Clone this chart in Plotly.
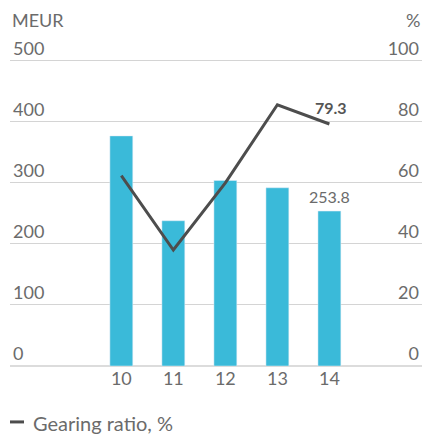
import plotly.graph_objects as go

years = [10, 11, 12, 13, 14]
year_labels = ["10", "11", "12", "13", "14"]
debt_meur = [377, 238, 304, 292, 253.8]
gearing_pct = [62.4, 38.0, 60.0, 85.6, 79.3]
left_ticks = [0, 100, 200, 300, 400, 500]
right_ticks = [0, 20, 40, 60, 80, 100]

FONT = "Lato"
GRAY = "#6b6b6b"

fig = go.Figure()
fig.add_trace(go.Bar(x=years, y=debt_meur, marker_color="#3ABAD9", width=0.44,
                     name="Net debt", showlegend=False, hoverinfo="skip"))
fig.add_trace(go.Scatter(x=years, y=gearing_pct, yaxis="y2", mode="lines",
                         line=dict(color="#4d4d4d", width=3), name="Gearing ratio, %",
                         showlegend=False, hoverinfo="skip"))

# value labels
fig.add_annotation(x=years[-1], y=debt_meur[-1], text=f"{debt_meur[-1]:.1f}", showarrow=False,
                   yshift=15, font=dict(family=FONT, size=16, color=GRAY))
fig.add_annotation(x=years[-1], y=gearing_pct[-1], yref="y2", text=f"<b>{gearing_pct[-1]:.1f}</b>",
                   showarrow=False, yshift=17, xshift=2, font=dict(family=FONT, size=16, color="#555555"))

# axis titles
fig.add_annotation(xref="paper", yref="paper", x=0, y=1, yshift=-8, xanchor="left", yanchor="middle",
                   text="MEUR", showarrow=False, font=dict(family=FONT, size=18, color=GRAY))
fig.add_annotation(xref="paper", yref="paper", x=1, y=1, yshift=-8, xanchor="right", yanchor="middle",
                   text="%", showarrow=False, font=dict(family=FONT, size=18, color=GRAY))

# legend
fig.add_shape(type="line", xref="paper", yref="paper", x0=0, x1=0.034, y0=-0.158, y1=-0.158,
              line=dict(color="#4d4d4d", width=3))
fig.add_annotation(xref="paper", yref="paper", x=0.05, y=-0.16, xanchor="left", yanchor="middle",
                   text="Gearing ratio, %", showarrow=False, font=dict(family=FONT, size=20, color=GRAY))

fig.update_layout(
    width=424, height=436,
    margin=dict(l=10, r=2, t=12, b=70),
    plot_bgcolor="white", paper_bgcolor="white",
    font=dict(family=FONT, size=18, color=GRAY),
    xaxis=dict(range=[7.86, 15.78], tickvals=years, ticktext=year_labels, showgrid=False,
               zeroline=False, showline=False, ticks="",
               automargin=False, tickfont=dict(family=FONT, size=18, color=GRAY)),
    yaxis=dict(range=[0, 580], tickvals=left_ticks, showgrid=True, gridcolor="#d4d4d4", gridwidth=1,
               zeroline=True, zerolinecolor="#dcdcdc", zerolinewidth=2, showline=False,
               automargin=False, ticklabelposition="inside top",
               tickfont=dict(family=FONT, size=18, color=GRAY)),
    yaxis2=dict(range=[0, 116], tickvals=right_ticks, overlaying="y", side="right", showgrid=False,
                zeroline=False, showline=False, automargin=False, ticklabelposition="inside top",
                tickfont=dict(family=FONT, size=18, color=GRAY)),
    showlegend=False,
)

fig.write_html("out.html", config={"displayModeBar": False},
               post_script="document.body.style.margin='0';document.body.style.overflow='hidden';")
